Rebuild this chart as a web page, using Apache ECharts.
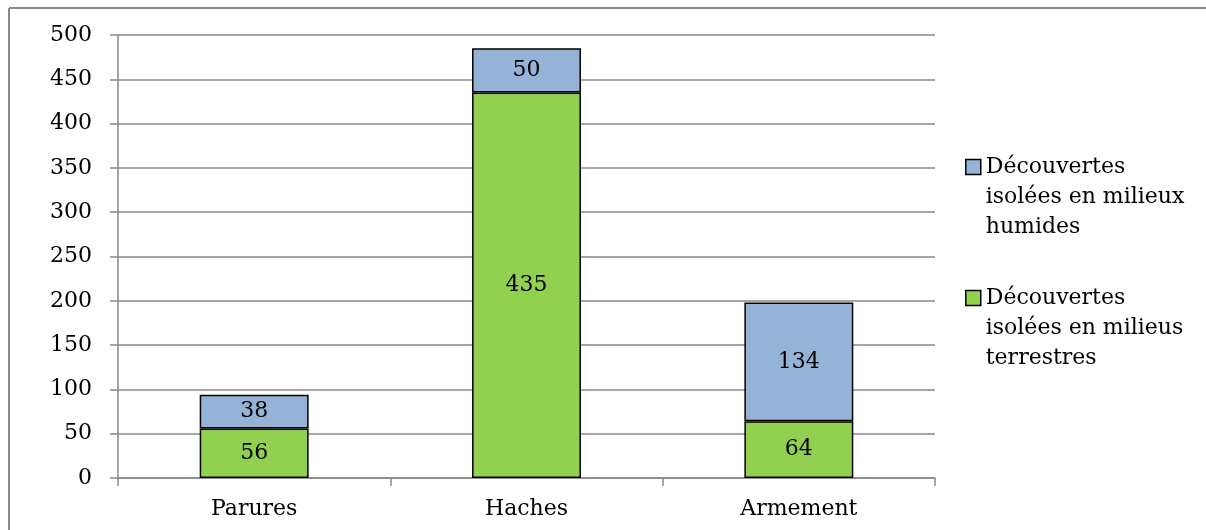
<!DOCTYPE html>
<html>
<head>
<meta charset="utf-8">
<script src="https://cdn.jsdelivr.net/npm/echarts@6/dist/echarts.min.js"></script>
<style>
html,body{margin:0;padding:0;background:#fff;}
#chart{width:1206px;height:530px;}
</style>
</head>
<body>
<div id="chart"></div>
<script>
const categories = ['Parures', 'Haches', 'Armement'];
const seriesNames = ['Découvertes isolées en milieus terrestres', 'Découvertes isolées en milieux humides'];
const legendLabels = ['\n\nDécouvertes\nisolées en milieus\nterrestres', '\n\nDécouvertes\nisolées en milieux\nhumides'];
const terrestres = [56, 435, 64];
const humides = [38, 50, 134];
const yTicks = { min: 0, max: 500, interval: 50 };

const FONT = 'DejaVu Serif';
const GREY = '#888888';
const labelMap = {};
seriesNames.forEach((n, i) => { labelMap[n] = legendLabels[i]; });

const legendText = { fontFamily: FONT, fontSize: 22, color: '#000', lineHeight: 30 };

const chart = echarts.init(document.getElementById('chart'));
chart.setOption({
  animation: false,
  backgroundColor: '#fff',
  textStyle: { fontFamily: FONT },
  graphic: [
    { type: 'line', shape: { x1: 9, y1: 8, x2: 1206, y2: 8 }, style: { stroke: GREY, lineWidth: 2 }, silent: true },
    { type: 'line', shape: { x1: 9, y1: 8, x2: 9, y2: 530 }, style: { stroke: GREY, lineWidth: 2 }, silent: true }
  ],
  grid: { left: 118, right: 271, top: 35, bottom: 52, containLabel: false },
  legend: [
    {
      data: [seriesNames[1]], orient: 'vertical', left: 965, top: 92, padding: 0,
      itemWidth: 15, itemHeight: 15, itemGap: 6, icon: 'rect',
      itemStyle: { borderColor: '#000', borderWidth: 1.5 },
      formatter: n => labelMap[n], textStyle: legendText,
      selectedMode: false
    },
    {
      data: [seriesNames[0]], orient: 'vertical', left: 965, top: 223, padding: 0,
      itemWidth: 15, itemHeight: 15, itemGap: 6, icon: 'rect',
      itemStyle: { borderColor: '#000', borderWidth: 1.5 },
      formatter: n => labelMap[n], textStyle: legendText,
      selectedMode: false
    }
  ],
  xAxis: {
    type: 'category', data: categories,
    axisLine: { show: true, lineStyle: { color: GREY, width: 1.5 } },
    axisTick: { show: true, length: 8, lineStyle: { color: GREY, width: 1.5 } },
    axisLabel: { fontFamily: FONT, fontSize: 22, color: '#000', margin: 20 }
  },
  yAxis: {
    type: 'value', min: yTicks.min, max: yTicks.max, interval: yTicks.interval,
    axisLine: { show: true, lineStyle: { color: GREY, width: 1.5 } },
    axisTick: { show: true, length: 8, lineStyle: { color: GREY, width: 1.5 } },
    axisLabel: { fontFamily: FONT, fontSize: 22, color: '#000', margin: 26 },
    splitLine: { show: true, lineStyle: { color: GREY, width: 1.5 } }
  },
  series: [
    {
      name: seriesNames[0], type: 'bar', stack: 'total', data: terrestres,
      barWidth: '40%',
      itemStyle: { color: '#92D050', borderColor: '#000', borderWidth: 1.5 },
      label: { show: true, position: 'inside', fontFamily: FONT, fontSize: 22, color: '#000' }
    },
    {
      name: seriesNames[1], type: 'bar', stack: 'total', data: humides,
      barWidth: '40%',
      itemStyle: { color: '#95B3D7', borderColor: '#000', borderWidth: 1.5 },
      label: { show: true, position: 'inside', fontFamily: FONT, fontSize: 22, color: '#000' }
    }
  ]
});
</script>
</body>
</html>
